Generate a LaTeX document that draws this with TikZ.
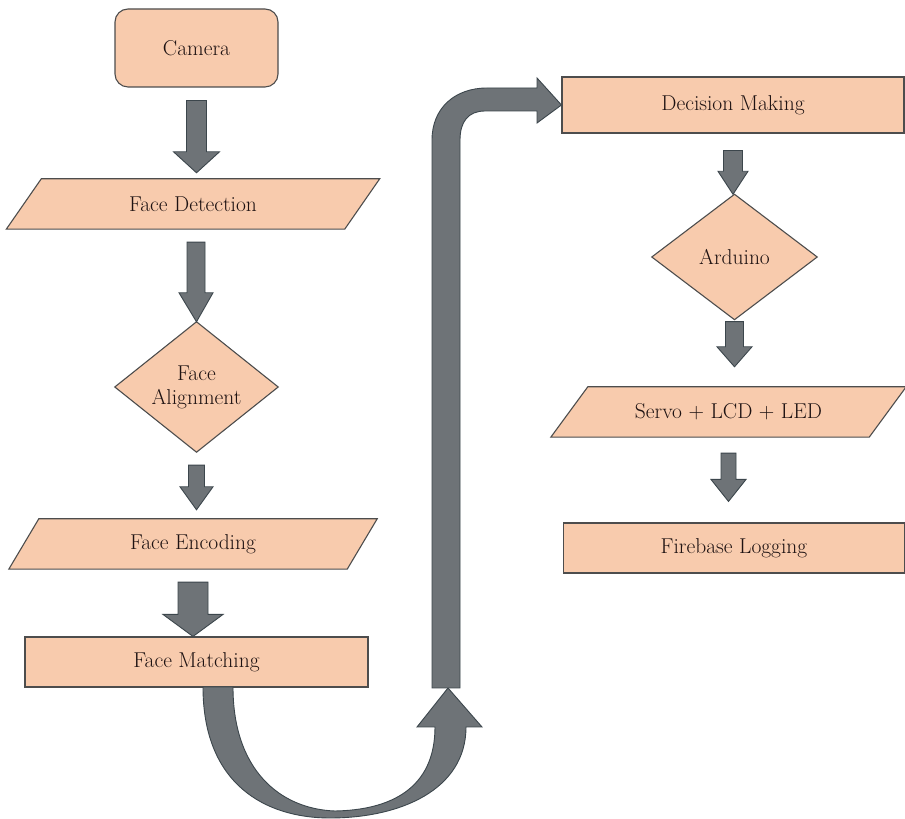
\documentclass[tikz,border=0pt]{standalone}
\usetikzlibrary{calc}
\definecolor{peach}{HTML}{F8CBAD}
\definecolor{boxline}{HTML}{4D4D4D}
\definecolor{arrowfill}{HTML}{6E7377}
\definecolor{arrowline}{HTML}{3C464C}
\definecolor{txt}{HTML}{1E1212}
\tikzset{
  lbl/.style={inner sep=0pt, text=txt, font=\rmfamily\fontsize{21.5}{24}\selectfont, align=center},
  boxsty/.style={fill=peach, draw=boxline, line width=1.1pt},
  blockarrow/.style={fill=arrowfill, draw=arrowline, line width=0.9pt, line join=miter},
}
% #1 from node, #2 to node, #3 gap below from, #4 gap above to, #5 shaft half width, #6 head half width, #7 head length
\newcommand\blockarrow[7]{%
  \filldraw[blockarrow] let \p1=(#1.south), \p2=(#2.north) in
    (\x1-#5,\y1-#3) -- (\x1+#5,\y1-#3) -- (\x1+#5,\y2+#4+#7) -- (\x1+#6,\y2+#4+#7)
    -- (\x1,\y2+#4) -- (\x1-#6,\y2+#4+#7) -- (\x1-#5,\y2+#4+#7) -- cycle;}
% parallelogram around a node: #1 node, #2 half slant
\newcommand\parallelo[2]{%
  \filldraw[boxsty] ($(#1.south west)+(-#2,0)$) -- ($(#1.south east)+(-#2,0)$)
    -- ($(#1.north east)+(#2,0)$) -- ($(#1.north west)+(#2,0)$) -- cycle;}
\newcommand\diamondbox[1]{%
  \filldraw[boxsty] (#1.north) -- (#1.east) -- (#1.south) -- (#1.west) -- cycle;}
\begin{document}
\begin{tikzpicture}[x=1pt,y=1pt]
\useasboundingbox (0,0) rectangle (905,819);
\fill[white] (0,0) rectangle (905,819);

% --- left column ---
\node[lbl, boxsty, rounded corners=13pt, minimum width=163pt, minimum height=78pt] (cam) at (196.5,771) {Camera};

\node[lbl, minimum width=338pt, minimum height=50pt] (fd) at (193,615) {};
\parallelo{fd}{17.5}
\node[lbl] (fdt) at (fd.center) {Face Detection};

\node[lbl, minimum width=163pt, minimum height=130pt] (fa) at (196.5,432) {};
\diamondbox{fa}
\node[lbl] (fat) at (fa.center) {Face\\Alignment};

\node[lbl, minimum width=338pt, minimum height=50pt] (fe) at (193,275) {};
\parallelo{fe}{15}
\node[lbl] (fet) at (fe.center) {Face Encoding};

\node[lbl, boxsty, minimum width=343pt, minimum height=50pt] (fm) at (196.5,157) {Face Matching};

% --- right column ---
\node[lbl, boxsty, minimum width=342pt, minimum height=56pt] (dm) at (733,714) {Decision Making};

\node[lbl, minimum width=165pt, minimum height=125pt] (ar) at (734.5,562) {};
\diamondbox{ar}
\node[lbl] (art) at (ar.center) {Arduino};

\node[lbl, minimum width=318pt, minimum height=50pt] (sv) at (728.5,407) {};
\parallelo{sv}{18.5}
\node[lbl] (svt) at (sv.center) {Servo + LCD + LED};

\node[lbl, boxsty, minimum width=341pt, minimum height=50pt] (fl) at (734,271) {Firebase Logging};

% --- block arrows ---
\blockarrow{cam}{fd}{13pt}{6pt}{10pt}{23pt}{21pt}
\blockarrow{fa}{fe}{13pt}{9pt}{8pt}{16.5pt}{23pt}
\blockarrow{fe}{fm}{13pt}{0pt}{15pt}{30pt}{22pt}
\blockarrow{dm}{ar}{17pt}{0pt}{9.5pt}{15pt}{23pt}
\blockarrow{ar}{sv}{2pt}{20pt}{9pt}{17.5pt}{20pt}
\blockarrow{sv}{fl}{16pt}{21pt}{7.5pt}{17.5pt}{22pt}
% fd -> fa (tip touches the diamond top)
\filldraw[blockarrow] let \p1=(fd.south), \p2=(fa.north) in
  (\x1+3-9,\y1-13) -- (\x1+3+9,\y1-13) -- (\x1+3+9,\y2+29) -- (\x1+3+17,\y2+29)
  -- (\x2,\y2) -- (\x1+3-17,\y2+29) -- (\x1+3-9,\y2+29) -- cycle;

% --- big connector: Face Matching -> Decision Making ---
\coordinate (uturn) at (448,131);
\filldraw[blockarrow]
  (203,132) .. controls (203,35) and (265,1) .. (330,1)
  .. controls (400,1) and (466,29) .. (466,92)
  -- (482,92) -- (uturn) -- (417,92) -- (435,92)
  .. controls (435,30) and (390,9) .. (335,8)
  .. controls (280,10) and (233,49) .. (233,132) -- cycle;
\filldraw[blockarrow]
  (432,131) -- (432,679) .. controls (432,711) and (455,731) .. (487,731)
  -- (537,731) -- (537,741) -- (dm.west) -- (537,696) -- (537,708)
  -- (485,708) .. controls (468,708) and (460,697) .. (460,679)
  -- (460,131) -- cycle;
\end{tikzpicture}
\end{document}
